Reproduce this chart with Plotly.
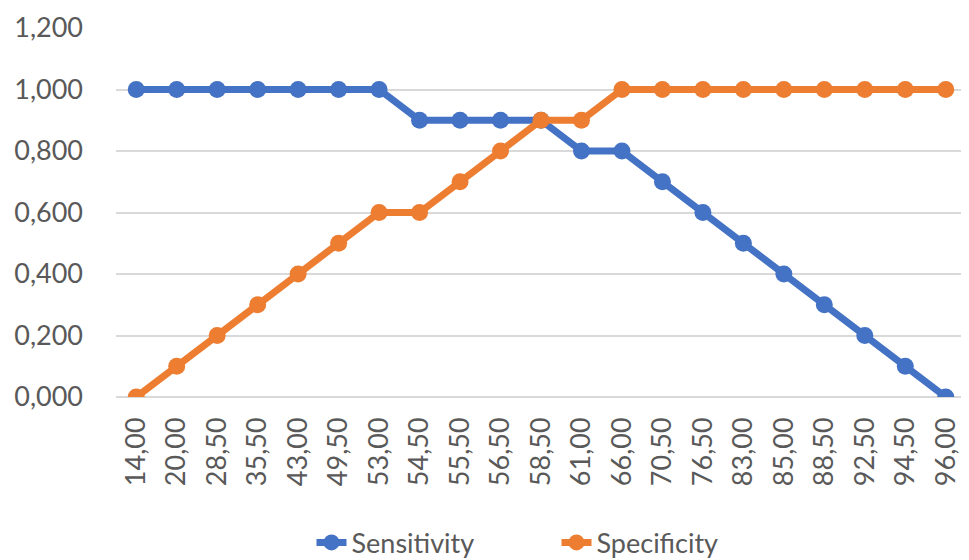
import plotly.graph_objects as go

categories = ["14,00", "20,00", "28,50", "35,50", "43,00", "49,50", "53,00", "54,50",
              "55,50", "56,50", "58,50", "61,00", "66,00", "70,50", "76,50", "83,00",
              "85,00", "88,50", "92,50", "94,50", "96,00"]
sensitivity = [1.0, 1.0, 1.0, 1.0, 1.0, 1.0, 1.0, 0.9, 0.9, 0.9, 0.9, 0.8, 0.8,
               0.7, 0.6, 0.5, 0.4, 0.3, 0.2, 0.1, 0.0]
specificity = [0.0, 0.1, 0.2, 0.3, 0.4, 0.5, 0.6, 0.6, 0.7, 0.8, 0.9, 0.9, 1.0,
               1.0, 1.0, 1.0, 1.0, 1.0, 1.0, 1.0, 1.0]
y_ticks = [0, 0.2, 0.4, 0.6, 0.8, 1.0, 1.2]

fig = go.Figure()
fig.add_trace(go.Scatter(x=categories, y=sensitivity, name="Sensitivity",
                         mode="lines+markers",
                         line=dict(color="#4472C4", width=7),
                         marker=dict(size=17, color="#4472C4")))
fig.add_trace(go.Scatter(x=categories, y=specificity, name="Specificity",
                         mode="lines+markers",
                         line=dict(color="#ED7D31", width=7),
                         marker=dict(size=17, color="#ED7D31")))

fig.update_layout(
    width=961, height=552,
    margin=dict(l=108, r=3, t=20, b=163, autoexpand=False),
    paper_bgcolor="white", plot_bgcolor="white",
    separators=",.",
    font=dict(family="Lato, Open Sans, sans-serif", size=27, color="#595959"),
    showlegend=True,
    legend=dict(orientation="h", x=0.230, xanchor="left",
                yref="container", y=0.031, yanchor="middle",
                font=dict(size=27, color="#595959"),
                entrywidth=200, entrywidthmode="pixels",
                tracegroupgap=0),
    xaxis=dict(type="category", tickangle=-90, showgrid=False, zeroline=False,
               showline=False, ticks="", ticklabelstandoff=14, automargin=False,
               range=[-0.5, len(categories) - 0.5]),
    yaxis=dict(range=[0, 1.2], tickvals=y_ticks, tickformat=".3f",
               showgrid=True, gridcolor="#D9D9D9", gridwidth=2,
               zeroline=True, zerolinecolor="#D9D9D9", zerolinewidth=2,
               showline=False, ticks="", ticklabelstandoff=32, automargin=False),
)

fig.write_html("out.html")
